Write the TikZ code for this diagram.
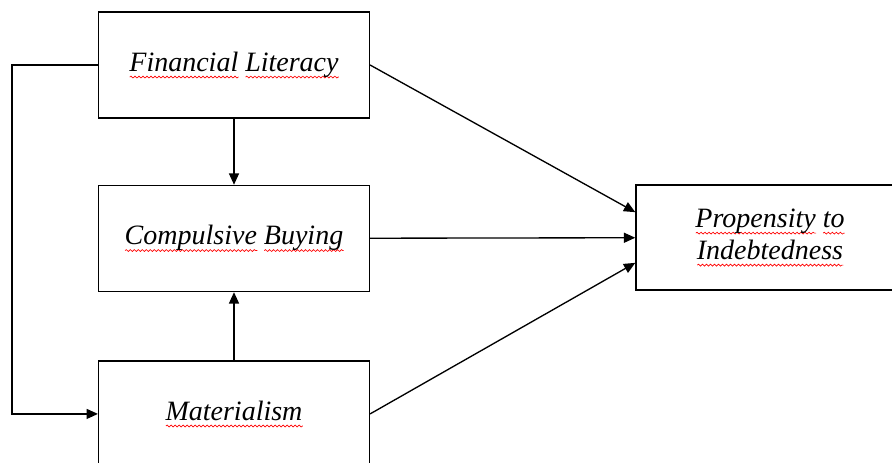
\documentclass[tikz,border=0pt]{standalone}
\usepackage{fontspec}
\setmainfont{Liberation Serif}
\usepackage{tikz}
\usetikzlibrary{positioning,calc,arrows.meta,decorations.pathmorphing}

\newlength\wavelen
\newcommand\spellwave[1]{\settowidth\wavelen{#1}%
  \makebox[0pt][l]{\raisebox{-4.5pt}{\tikz[baseline=0pt]{\draw[-,red,line width=0.5pt,decorate,
    decoration={snake,amplitude=0.7pt,segment length=3pt}] (0pt,0pt) -- (\wavelen,0pt);}}}#1}

\begin{document}
\begin{tikzpicture}[x=0.75pt,y=-0.75pt,->,>={Triangle[length=8.5pt,width=7.5pt]},line width=1pt,
    font=\fontsize{21}{24}\selectfont\itshape]
  \tikzstyle{box}=[draw,line width=1.1pt,minimum width=203pt,minimum height=79.5pt,align=center,inner sep=0pt]
  \useasboundingbox (0,0) rectangle (892,463);
  \node[box] (fl) at (234,65) {\spellwave{Financial} \spellwave{Literacy}};
  \node[box,below=49.5pt of fl] (cb) {\spellwave{Compulsive} \spellwave{Buying}};
  \node[box,below=51pt of cb] (mat) {\spellwave{Materialism}};
  \node[box,minimum width=201pt,minimum height=79pt] (prop) at (770,237.5)
    {\spellwave{Propensity} \spellwave{to}\\ \spellwave{Indebtedness}};
  % links
  \draw (fl) -- (cb);
  \draw (mat) -- (cb);
  \draw (cb) -- (prop);
  \draw (fl.east) -- ([yshift=19pt]prop.west);
  \draw (mat.east) -- ([yshift=-19pt]prop.west);
  \draw (fl.west) -- ++(-86,0) |- (mat.west);
\end{tikzpicture}
\end{document}
